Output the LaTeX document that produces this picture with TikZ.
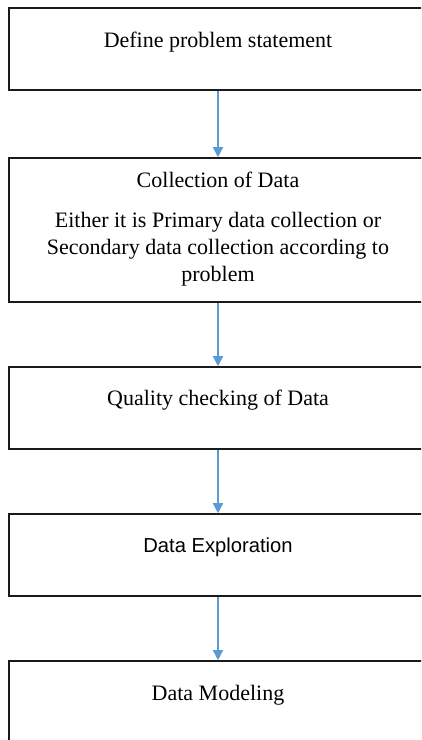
\documentclass[tikz,border=0pt]{standalone}
\usepackage{fontspec}
\setmainfont{Liberation Serif}
\setsansfont{Liberation Sans}
\usetikzlibrary{arrows.meta}
\definecolor{arrowblue}{HTML}{5B9BD5}
\definecolor{boxline}{HTML}{1A1A1A}
\begin{document}
\begin{tikzpicture}[x=1pt,y=-1pt,
  stepbox/.style={draw=boxline,line width=1.6pt,rectangle,inner sep=0pt,minimum width=418pt},
  lbl/.style={font=\fontsize{22}{27}\selectfont,align=center,inner sep=0pt,text=black},
  flow/.style={draw=arrowblue,line width=1.5pt,-{Triangle[length=10pt,width=10pt]}}]
\useasboundingbox (0,0) rectangle (421,740);
\clip (0,0) rectangle (421,740);
\fill[white] (0,0) rectangle (421,740);
\node[stepbox,minimum height=82pt] (b1) at (218,49) {};
\node[stepbox,minimum height=144pt] (b2) at (218,230) {};
\node[stepbox,minimum height=82pt] (b3) at (218,408) {};
\node[stepbox,minimum height=82pt] (b4) at (218,555) {};
\node[stepbox,minimum height=120pt] (b5) at (218,721) {};
\node[lbl] (t1) at (218,42) {Define problem statement};
\node[lbl] (t2) at (218,180) {Collection of Data};
\node[lbl] (t2b) at (218,249) {Either it is Primary data collection or\\Secondary data collection according to\\problem};
\node[lbl] (t3) at (218,400) {Quality checking of Data};
\node[lbl,font=\sffamily\fontsize{20.2}{24}\selectfont] (t4) at (218,547) {Data Exploration};
\node[lbl] (t5) at (218,695) {Data Modeling};
\draw[flow] (b1.south) -- (b2.north);
\draw[flow] (b2.south) -- (b3.north);
\draw[flow] (b3.south) -- (b4.north);
\draw[flow] (b4.south) -- (b5.north);
\end{tikzpicture}
\end{document}
